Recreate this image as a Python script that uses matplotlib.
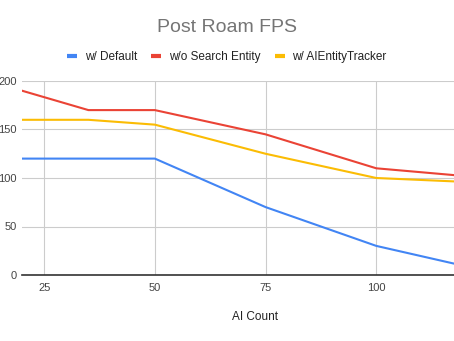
import matplotlib
matplotlib.use("Agg")
import matplotlib.pyplot as plt

plt.rcParams['font.family'] = ['Liberation Sans', 'DejaVu Sans']

# AI count vs frames per second after roaming
ai_count = [20, 35, 50, 75, 100, 125]
fps_default = [120, 120, 120, 70, 30, 4]
fps_no_search = [190, 170, 170, 145, 110, 100]
fps_tracker = [160, 160, 155, 125, 100, 95]

series_labels = ["w/ Default", "w/o Search Entity", "w/ AIEntityTracker"]
colors = ["#4285F4", "#EA4335", "#FBBC04"]

fig = plt.figure(figsize=(4.54, 3.41), dpi=100)
# the plot area runs past the right edge of the image
ax = fig.add_axes([22 / 454, 1 - 275 / 341, (487 - 22) / 454, (275 - 81) / 341])

for ys, lab, c in zip([fps_default, fps_no_search, fps_tracker], series_labels, colors):
    ax.plot(ai_count, ys, color=c, lw=1.5, label=lab, zorder=3)

ax.set_xlim(20, 125)
ax.set_ylim(0, 200)
ax.set_xticks([25, 50, 75, 100])
ax.set_yticks([0, 50, 100, 150, 200])
ax.grid(True, color="#cccccc", lw=0.8)
ax.set_axisbelow(True)
for s in ["top", "right", "left"]:
    ax.spines[s].set_visible(False)
ax.spines["bottom"].set_color("#333333")
ax.spines["bottom"].set_linewidth(1.2)
ax.tick_params(length=0, labelsize=8, labelcolor="#444444")
ax.tick_params(axis="x", pad=6)
ax.tick_params(axis="y", pad=4)

ax.set_xlabel("AI Count", fontsize=8.5, color="#222222", labelpad=13)

fig.text(0.5, 1 - 28 / 341, "Post Roam FPS", ha="center", va="center",
         fontsize=14, color="#757575")

fig.legend(loc="center", bbox_to_anchor=(0.5, 1 - 57 / 341), ncol=3,
           frameon=False, fontsize=8.5, handlelength=0.85, handletextpad=0.65,
           columnspacing=1.2, labelcolor="#222222")
for h in fig.legends[0].legend_handles:
    h.set_linewidth(3)
    h.set_solid_capstyle("butt")

fig.savefig("out.png", dpi=100)
